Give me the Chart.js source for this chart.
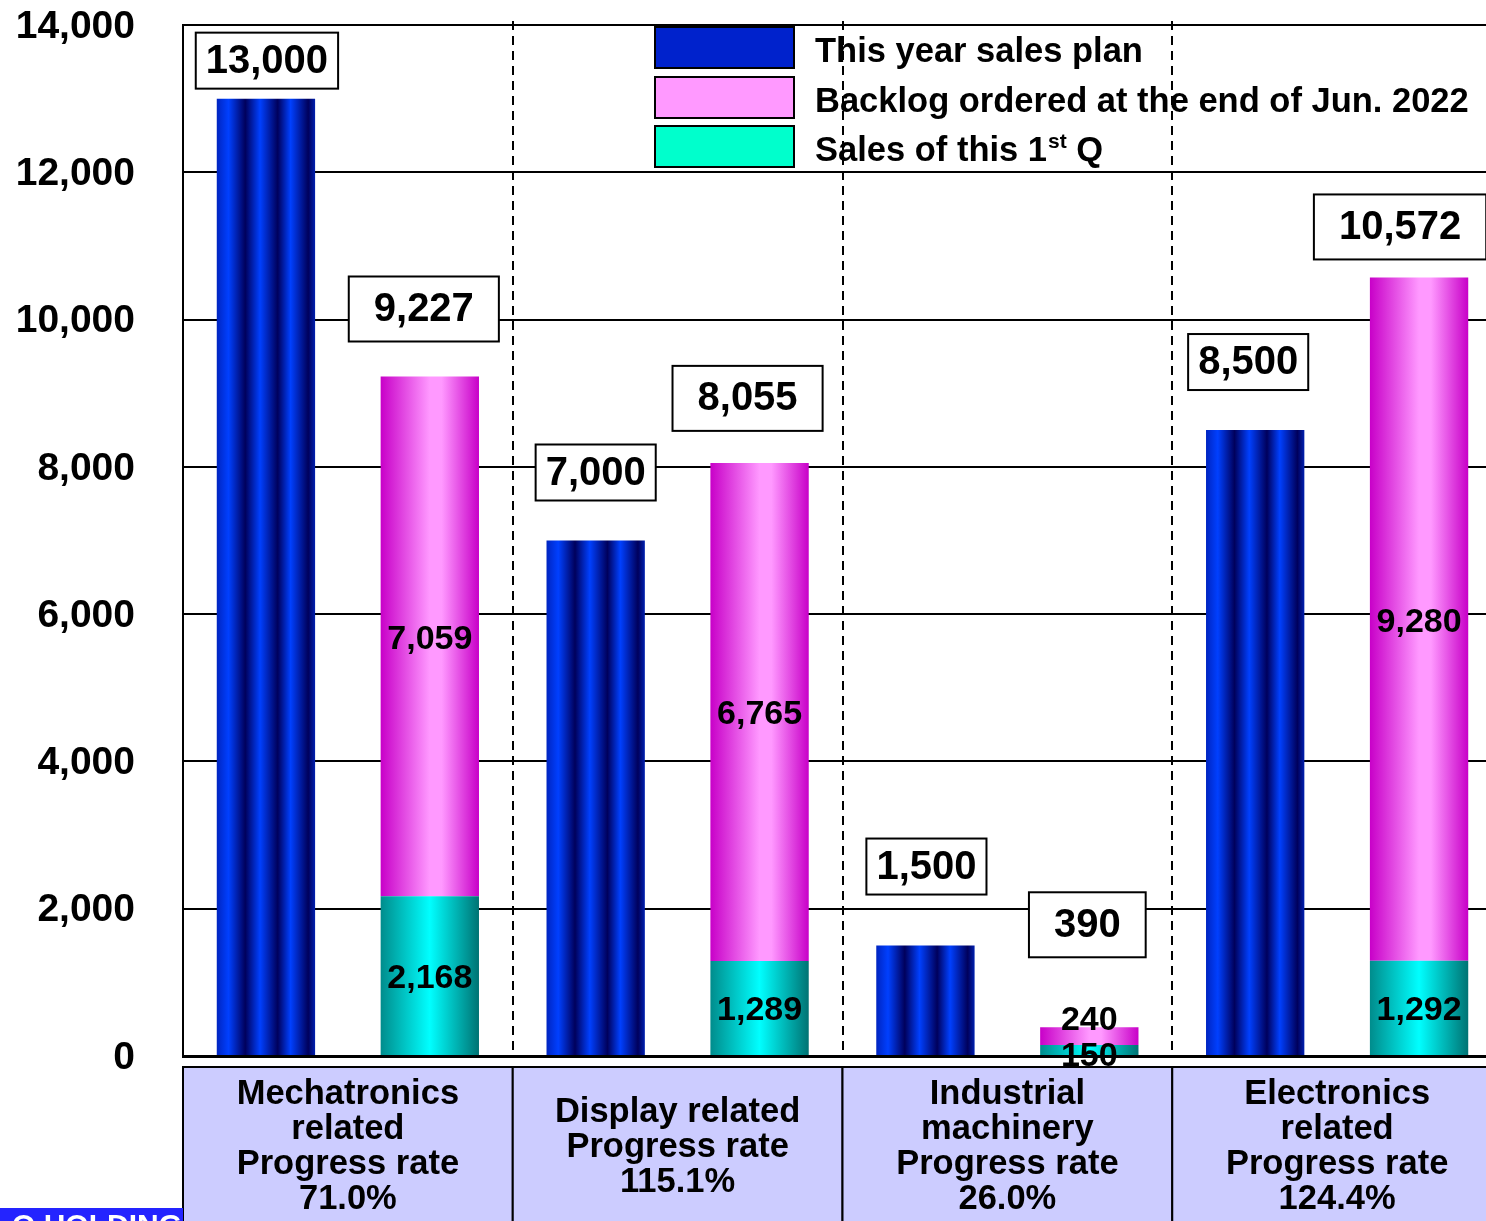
<!DOCTYPE html>
<html>
<head>
<meta charset="utf-8">
<title>Sales plan vs backlog</title>
<script src="https://cdn.jsdelivr.net/npm/chart.js@4.4.0/dist/chart.umd.min.js"></script>
<style>
  html, body { margin: 0; padding: 0; background: #fff; overflow: hidden; }
  #wrap { position: relative; width: 1510px; height: 1221px; }
</style>
</head>
<body>
<div id="wrap"><canvas id="salesChart"></canvas></div>
<script>
// ===== Data =====
const categories = ['Mechatronics related', 'Display related', 'Industrial machinery', 'Electronics related'];
const categoryLines = [['Mechatronics', 'related'], ['Display related'], ['Industrial', 'machinery'], ['Electronics', 'related']];
const progressRates = [71.0, 115.1, 26.0, 124.4];
const planValues = [13000, 7000, 1500, 8500];
const salesValues = [2168, 1289, 150, 1292];
const backlogValues = [7059, 6765, 240, 9280];
const orderTotals = [9227, 8055, 390, 10572];
const yTicks = [0, 2000, 4000, 6000, 8000, 10000, 12000, 14000];

// ===== Layout of the value boxes (px) =====
const planBoxGap = [10, 40, 51, 40];
const planBoxShift = [1, 0, 1, -7];
const totalBoxGap = [35, 32, 70, 18];
const totalBoxShift = [-6, -12, -2, -19];

const FONT = '"Liberation Sans", Arial, Helvetica, sans-serif';
const CAT_PCT = 0.994;
const BAR_PCT = 0.6;

const blueStops = [[0, '#0024c0'], [0.12, '#0040ff'], [0.29, '#00005c'], [0.44, '#0040ff'],
                   [0.62, '#00005c'], [0.75, '#0040ff'], [0.93, '#00005c'], [1, '#0020b0']];
const pinkStops = [[0, '#c800c8'], [0.5, '#ff99ff'], [0.62, '#ff99ff'], [1, '#c800c8']];
const cyanStops = [[0, '#008c8c'], [0.5, '#00ffff'], [1, '#007373']];

const fmt = v => v.toLocaleString('en-US');

// gradient across one bar, side -1 = left bar of the group, +1 = right bar
function barGradient(stops, side) {
    return function(context) {
        const chart = context.chart;
        const xs = chart.scales.x;
        if (!chart.chartArea || !xs || context.dataIndex === undefined) return stops[1][1];
        const slot = xs.width / categories.length;
        const group = slot * CAT_PCT;
        const w = group / 2 * BAR_PCT;
        const cx = xs.getPixelForValue(context.dataIndex) + side * group / 4;
        const g = chart.ctx.createLinearGradient(cx - w / 2, 0, cx + w / 2, 0);
        stops.forEach(([p, c]) => g.addColorStop(p, c));
        return g;
    };
}

function drawBox(ctx, cx, bottom, h, text, pad) {
    ctx.font = 'bold 40px ' + FONT;
    const w = Math.max(ctx.measureText(text).width + pad * 2, 116);
    const top = bottom - h;
    ctx.fillStyle = '#fff';
    ctx.fillRect(cx - w / 2, top, w, h);
    ctx.lineWidth = 2;
    ctx.strokeStyle = '#000';
    ctx.strokeRect(cx - w / 2, top, w, h);
    ctx.fillStyle = '#000';
    ctx.textAlign = 'center';
    ctx.textBaseline = 'middle';
    ctx.fillText(text, cx, top + h / 2 + 1);
}

const decorPlugin = {
    id: 'decor',
    beforeDatasetsDraw(chart) {
        const { ctx, chartArea } = chart;
        const xs = chart.scales.x;
        const slot = xs.width / categories.length;
        ctx.save();
        ctx.strokeStyle = '#000';
        ctx.lineWidth = 2;
        ctx.setLineDash([9, 6]);
        for (let i = 1; i < categories.length; i++) {
            const x = Math.round(xs.left + i * slot);
            ctx.beginPath();
            ctx.moveTo(x, chartArea.top - 4);
            ctx.lineTo(x, chartArea.bottom);
            ctx.stroke();
        }
        ctx.restore();
    },
    afterDatasetsDraw(chart) {
        const { ctx } = chart;
        const planMeta = chart.getDatasetMeta(0);
        const salesMeta = chart.getDatasetMeta(1);
        const backMeta = chart.getDatasetMeta(2);
        ctx.save();
        planMeta.data.forEach((el, i) => {
            drawBox(ctx, el.x + planBoxShift[i], el.y - planBoxGap[i], 56, fmt(planValues[i]), 10);
        });
        backMeta.data.forEach((el, i) => {
            drawBox(ctx, el.x + totalBoxShift[i], el.y - totalBoxGap[i], 65, fmt(orderTotals[i]), 25);
        });

        // segment labels
        ctx.font = 'bold 34px ' + FONT;
        ctx.fillStyle = '#000';
        ctx.textAlign = 'center';
        ctx.textBaseline = 'middle';
        salesMeta.data.forEach((el, i) => {
            let y = (el.y + el.base) / 2;
            if (el.base - el.y < 40) y += 4;
            ctx.fillText(fmt(salesValues[i]), el.x, y + 3);
        });
        backMeta.data.forEach((el, i) => {
            let y = (el.y + el.base) / 2;
            if (el.base - el.y < 40) y = el.y - 10;
            ctx.fillText(fmt(backlogValues[i]), el.x, y + 3);
        });
        ctx.restore();
    },
    afterDraw(chart) {
        const { ctx, chartArea } = chart;
        const xs = chart.scales.x;
        const slot = xs.width / categories.length;
        ctx.save();

        // category boxes under the axis
        const boxTop = chartArea.bottom + 11;
        for (let i = 0; i < categories.length; i++) {
            const left = xs.left + i * slot;
            ctx.fillStyle = '#ccccff';
            ctx.fillRect(left, boxTop, slot, chart.height - boxTop + 5);
            ctx.strokeStyle = '#000';
            ctx.lineWidth = 2;
            ctx.strokeRect(left, boxTop, slot, chart.height - boxTop + 5);

            const lines = categoryLines[i].concat(['Progress rate', progressRates[i].toFixed(1) + '%']);
            ctx.fillStyle = '#000';
            ctx.font = 'bold 34.5px ' + FONT;
            ctx.textAlign = 'center';
            ctx.textBaseline = 'middle';
            const mid = boxTop + 80;
            lines.forEach((t, k) => {
                ctx.fillText(t, left + slot / 2, mid + (k - (lines.length - 1) / 2) * 35);
            });
        }

        // legend
        const items = [
            { color: '#0022cc', text: 'This year sales plan' },
            { color: '#ff99ff', text: 'Backlog ordered at the end of Jun. 2022' },
            { color: '#00ffcc', text: 'Sales of this 1', sup: 'st', after: ' Q' }
        ];
        const swY = [27, 77, 126];
        items.forEach((it, k) => {
            ctx.fillStyle = it.color;
            ctx.fillRect(655, swY[k], 139, 41);
            ctx.strokeStyle = '#000';
            ctx.lineWidth = 2;
            ctx.strokeRect(655, swY[k], 139, 41);

            const ty = swY[k] + 25;
            ctx.fillStyle = '#000';
            ctx.textAlign = 'left';
            ctx.textBaseline = 'middle';
            ctx.font = 'bold 34.5px ' + FONT;
            ctx.fillText(it.text, 815, ty);
            if (it.sup) {
                let x = 815 + ctx.measureText(it.text).width + 1;
                ctx.font = 'bold 21px ' + FONT;
                ctx.fillText(it.sup, x, ty - 9);
                x += ctx.measureText(it.sup).width;
                ctx.font = 'bold 34.5px ' + FONT;
                ctx.fillText(it.after, x, ty);
            }
        });

        // cut-off company banner in the bottom left corner
        ctx.beginPath();
        ctx.rect(0, 1208, 183, 20);
        ctx.clip();
        ctx.fillStyle = '#2424ff';
        ctx.fillRect(0, 1208, 183, 20);
        ctx.fillStyle = '#fff';
        ctx.font = 'bold 30px ' + FONT;
        ctx.textAlign = 'left';
        ctx.textBaseline = 'top';
        ctx.fillText('O HOLDINGS', 12, 1212);
        ctx.restore();
    }
};

const chart = new Chart(document.getElementById('salesChart').getContext('2d'), {
    type: 'bar',
    data: {
        labels: categories,
        datasets: [
            {
                label: 'This year sales plan',
                data: planValues,
                stack: 'plan',
                backgroundColor: barGradient(blueStops, -1)
            },
            {
                label: 'Sales of this 1st Q',
                data: salesValues,
                stack: 'order',
                backgroundColor: barGradient(cyanStops, 1)
            },
            {
                label: 'Backlog ordered at the end of Jun. 2022',
                data: backlogValues,
                stack: 'order',
                backgroundColor: barGradient(pinkStops, 1)
            }
        ]
    },
    options: {
        responsive: true,
        maintainAspectRatio: false,
        animation: false,
        categoryPercentage: CAT_PCT,
        barPercentage: BAR_PCT,
        layout: { padding: { top: 25, right: 8, left: 0, bottom: 0 } },
        plugins: {
            legend: { display: false },
            tooltip: { enabled: false }
        },
        scales: {
            x: {
                stacked: true,
                afterFit(scale) { scale.height = 165; },
                ticks: { display: false },
                grid: { display: false, drawTicks: false },
                border: { display: true, color: '#000', width: 3 }
            },
            y: {
                stacked: true,
                min: 0,
                max: 14000,
                afterFit(scale) {
                    scale.width = 183;
                    scale.paddingTop = 0;
                    scale.paddingBottom = 0;
                },
                afterBuildTicks(scale) { scale.ticks = yTicks.map(v => ({ value: v })); },
                ticks: {
                    padding: 48,
                    labelOffset: 2,
                    color: '#000',
                    font: { family: FONT, size: 39, weight: 'bold' },
                    callback: v => fmt(v)
                },
                grid: { color: '#000', lineWidth: 2, drawTicks: false },
                border: { display: true, color: '#000', width: 2 }
            }
        }
    },
    plugins: [decorPlugin]
});
</script>
</body>
</html>
